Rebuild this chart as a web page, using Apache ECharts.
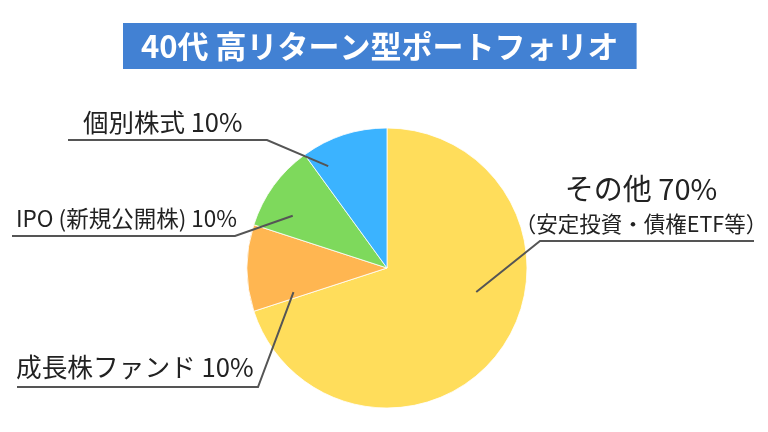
<!DOCTYPE html>
<html><head><meta charset="utf-8">
<script src="https://cdn.jsdelivr.net/npm/echarts@6/dist/echarts.min.js"></script>
<style>html,body{margin:0;padding:0;background:#fff}#c{width:768px;height:432px}</style>
</head><body><div id="c"></div>
<script>
const titleText = '40代 高リターン型ポートフォリオ';
const categories = ['その他', '成長株ファンド', 'IPO (新規公開株)', '個別株式'];
const subNotes = ['（安定投資・債権ETF等）', '', '', ''];
const values = [70, 10, 10, 10];
const colors = ['#FFDD5B', '#FFB651', '#7ED95C', '#3BB3FF'];

const FONT = '"Noto Sans CJK JP", "Noto Sans", sans-serif';
const CX = 387, CY = 268, R = 140;
// label layout: anchor inside slice (angle clockwise from top, fraction of radius), elbow, end, text position
const layouts = [
  {ang: 105, f: 0.66, elbow: [540, 241], end: [754, 241], x: 641, y: 171, align: 'center', va: 'top', fs: 29},
  {ang: 255.5, f: 0.69, elbow: [258, 387], end: [17, 387], x: 16, y: 367, align: 'left', va: 'middle', fs: 25.7},
  {ang: 299, f: 0.77, elbow: [235, 236], end: [12, 236], x: 16, y: 218, align: 'left', va: 'middle', fs: 22.5},
  {ang: 330, f: 0.84, elbow: [267, 140], end: [68, 140], x: 83, y: 122, align: 'left', va: 'middle', fs: 25.5}
];
function anchor(l) {
  const a = l.ang * Math.PI / 180;
  return [CX + Math.sin(a) * R * l.f, CY - Math.cos(a) * R * l.f];
}

const pieBase = {
  type: 'pie',
  center: [CX, CY],
  radius: R,
  startAngle: 90,
  clockwise: true,
  avoidLabelOverlap: false,
  emphasis: {disabled: true},
  silent: true
};

const chart = echarts.init(document.getElementById('c'));
chart.setOption({
  animation: false,
  title: {
    text: titleText,
    left: 123, top: 23,
    padding: [7, 18, 7, 18],
    backgroundColor: '#4281D3',
    textStyle: {color: '#fff', fontSize: 31, fontWeight: 'bold', fontFamily: FONT, lineHeight: 32}
  },
  series: [
    Object.assign({}, pieBase, {
      z: 2,
      itemStyle: {borderColor: '#fff', borderWidth: 0.8},
      data: categories.map((c, i) => ({name: c, value: values[i], itemStyle: {color: colors[i]}})),
      label: {show: false},
      labelLine: {show: false}
    }),
    Object.assign({}, pieBase, {
      z: 5,
      itemStyle: {color: 'rgba(0,0,0,0)', borderWidth: 0},
      data: categories.map((c, i) => ({
        name: c, value: values[i],
        label: {fontSize: layouts[i].fs}
      })),
      label: {
        show: true,
        position: 'outside',
        fontFamily: FONT,
        color: '#222',
        fontSize: 24,
        formatter: p => {
          const main = p.name + ' ' + p.value + '%';
          const sub = subNotes[p.dataIndex];
          return sub ? '{a|' + main + '}\n{b|' + sub + '}' : main;
        },
        rich: {
          a: {fontSize: 29, lineHeight: 36, fontFamily: FONT, color: '#222', align: 'center'},
          b: {fontSize: 21.5, lineHeight: 34, fontFamily: FONT, color: '#222', align: 'center'}
        }
      },
      labelLine: {show: true, showAbove: true, lineStyle: {color: '#555', width: 2, opacity: 1}},
      labelLayout: p => {
        const l = layouts[p.dataIndex];
        return {
          x: l.x, y: l.y, align: l.align, verticalAlign: l.va,
          labelLinePoints: [anchor(l), l.elbow, l.end]
        };
      }
    })
  ]
});
</script></body></html>
